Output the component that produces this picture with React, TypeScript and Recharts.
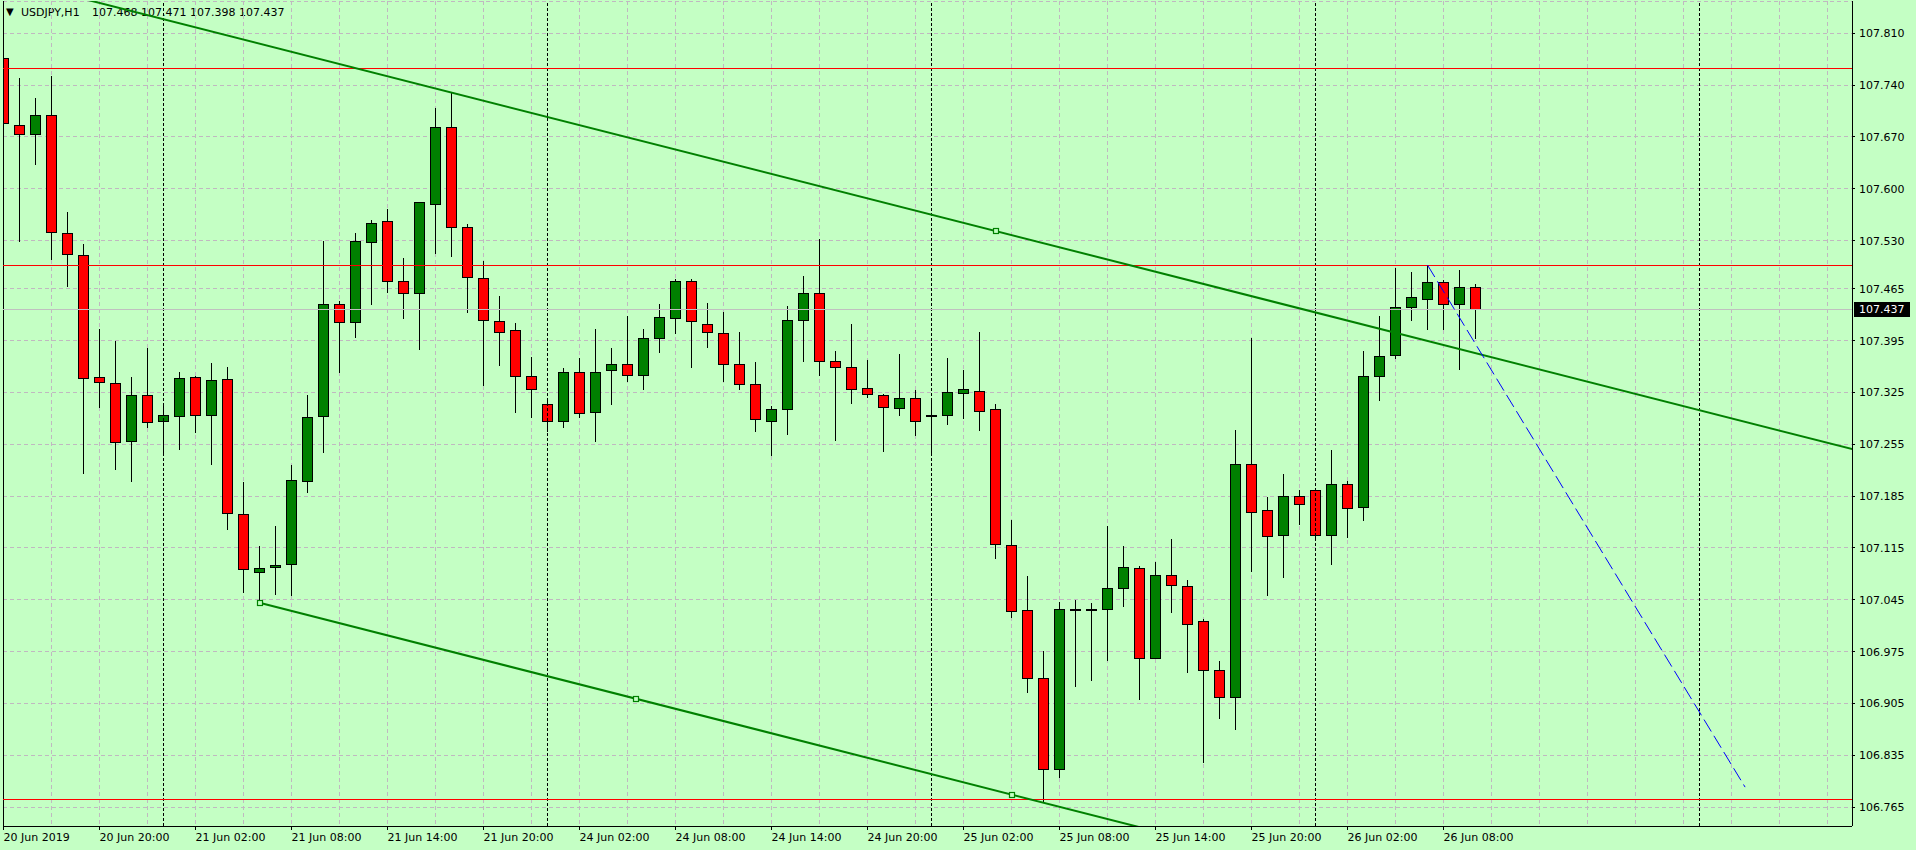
import React from 'react';
import { ComposedChart, Bar, XAxis, YAxis, CartesianGrid, ReferenceLine, ReferenceDot } from 'recharts';

// ---------- data ----------
const OPEN = [
  107.777, 107.686, 107.674, 107.700, 107.540, 107.511, 107.346, 107.338, 107.259, 107.321,
  107.286, 107.293, 107.346, 107.295, 107.343, 107.161, 107.082, 107.089, 107.093, 107.206,
  107.293, 107.444, 107.420, 107.528, 107.556, 107.475, 107.459, 107.580, 107.684, 107.548,
  107.480, 107.422, 107.409, 107.347, 107.310, 107.286, 107.352, 107.298, 107.355, 107.364,
  107.348, 107.398, 107.426, 107.475, 107.418, 107.405, 107.364, 107.337, 107.287, 107.302,
  107.423, 107.459, 107.367, 107.359, 107.331, 107.322, 107.304, 107.318, 107.295, 107.295,
  107.324, 107.327, 107.302, 107.119, 107.031, 106.940, 106.816, 107.032, 107.032, 107.032,
  107.061, 107.088, 106.967, 107.079, 107.063, 107.016, 106.950, 106.914, 107.229, 107.166,
  107.132, 107.185, 107.193, 107.133, 107.201, 107.170, 107.347, 107.375, 107.441, 107.451,
  107.474, 107.444, 107.468,
];
const HIGH = [
  107.794, 107.750, 107.723, 107.752, 107.569, 107.525, 107.410, 107.395, 107.346, 107.385,
  107.309, 107.352, 107.347, 107.365, 107.360, 107.204, 107.117, 107.145, 107.227, 107.321,
  107.530, 107.449, 107.540, 107.558, 107.573, 107.507, 107.582, 107.709, 107.731, 107.553,
  107.502, 107.455, 107.419, 107.373, 107.317, 107.358, 107.372, 107.411, 107.385, 107.428,
  107.411, 107.445, 107.478, 107.478, 107.446, 107.434, 107.407, 107.366, 107.307, 107.442,
  107.482, 107.532, 107.381, 107.417, 107.369, 107.323, 107.377, 107.328, 107.313, 107.372,
  107.355, 107.406, 107.310, 107.153, 107.077, 106.976, 107.042, 107.045, 107.040, 107.145,
  107.118, 107.090, 107.096, 107.127, 107.072, 107.019, 106.962, 107.274, 107.398, 107.184,
  107.215, 107.193, 107.195, 107.247, 107.205, 107.381, 107.428, 107.493, 107.488, 107.497,
  107.477, 107.490, 107.471,
];
const LOW = [
  107.677, 107.530, 107.633, 107.505, 107.469, 107.216, 107.306, 107.222, 107.205, 107.278,
  107.241, 107.248, 107.271, 107.229, 107.141, 107.056, 107.041, 107.053, 107.052, 107.190,
  107.245, 107.353, 107.400, 107.444, 107.461, 107.426, 107.384, 107.513, 107.509, 107.433,
  107.335, 107.362, 107.299, 107.292, 107.273, 107.278, 107.292, 107.260, 107.310, 107.341,
  107.329, 107.380, 107.405, 107.360, 107.387, 107.341, 107.329, 107.273, 107.241, 107.269,
  107.368, 107.349, 107.261, 107.311, 107.319, 107.246, 107.295, 107.268, 107.241, 107.283,
  107.290, 107.274, 107.102, 107.022, 106.921, 106.772, 106.805, 106.929, 106.937, 106.964,
  107.036, 106.911, 106.966, 107.028, 106.947, 106.826, 106.885, 106.870, 107.084, 107.052,
  107.076, 107.148, 107.128, 107.093, 107.130, 107.153, 107.315, 107.372, 107.423, 107.410,
  107.411, 107.356, 107.398,
];
const CLOSE = [
  107.689, 107.674, 107.700, 107.541, 107.512, 107.345, 107.339, 107.258, 107.321, 107.285,
  107.294, 107.344, 107.294, 107.342, 107.162, 107.086, 107.088, 107.092, 107.207, 107.292,
  107.444, 107.420, 107.530, 107.554, 107.475, 107.459, 107.582, 107.684, 107.548, 107.481,
  107.423, 107.407, 107.347, 107.329, 107.287, 107.352, 107.297, 107.352, 107.364, 107.348,
  107.399, 107.427, 107.476, 107.422, 107.406, 107.364, 107.337, 107.289, 107.302, 107.423,
  107.459, 107.368, 107.360, 107.330, 107.323, 107.306, 107.318, 107.287, 107.293, 107.325,
  107.329, 107.300, 107.120, 107.030, 106.940, 106.817, 107.032, 107.032, 107.032, 107.061,
  107.089, 106.966, 107.079, 107.065, 107.012, 106.950, 106.914, 107.229, 107.164, 107.131,
  107.185, 107.175, 107.133, 107.202, 107.169, 107.347, 107.374, 107.441, 107.454, 107.474,
  107.444, 107.468, 107.437,
];

const LABEL_BARS = [0, 6, 12, 18, 24, 30, 36, 42, 48, 54, 60, 66, 72, 78, 84, 90];
const LABEL_TEXT = [
  '20 Jun 2019', '20 Jun 20:00', '21 Jun 02:00', '21 Jun 08:00', '21 Jun 14:00', '21 Jun 20:00',
  '24 Jun 02:00', '24 Jun 08:00', '24 Jun 14:00', '24 Jun 20:00', '25 Jun 02:00', '25 Jun 08:00',
  '25 Jun 14:00', '25 Jun 20:00', '26 Jun 02:00', '26 Jun 08:00',
];
const GRID_BARS = [
  0, 3, 6, 9, 12, 15, 18, 21, 24, 27, 30, 33, 36, 39, 42, 45, 48, 51, 54, 57, 60, 63, 66, 69,
  72, 75, 78, 81, 84, 87, 90, 93, 96, 99, 102, 105, 108, 111, 114,
];
const Y_TICKS = [
  107.810, 107.740, 107.670, 107.600, 107.530, 107.465, 107.395, 107.325, 107.255, 107.185,
  107.115, 107.045, 106.975, 106.905, 106.835, 106.765,
];
const DAY_BREAKS = [10, 34, 58, 82, 106];
const RED_LEVELS = [107.763, 107.497, 106.775];
const BID = 107.437;
const SYMBOL = 'USDJPY,H1';
const QUOTE = '107.468 107.471 107.398 107.437';

const UPPER_TREND = [{ i: 28, p: 107.730 }, { i: 62, p: 107.543 }];
const UPPER_MARKS = [62];
const LOWER_TREND = [{ i: 16, p: 107.041 }, { i: 63, p: 106.782 }];
const LOWER_MARKS = [16, 39.5, 63];
const BLUE_LINE = [{ i: 89, p: 107.497 }, { i: 108.85, p: 106.792 }];

// ---------- layout ----------
const W = 1916;
const H = 850;
const BG = '#C4FFC4';
const FONT = '"DejaVu Sans", Verdana, sans-serif';
const X_MIN = -0.03125;
const X_MAX = 115.53125;
const Y_MIN = 106.7395;
const Y_MAX = 107.8536;
const CRISP = 'crispEdges';

const data = OPEN.map((o, i) => ({
  i,
  open: o,
  high: HIGH[i],
  low: LOW[i],
  close: CLOSE[i],
  range: [LOW[i], HIGH[i]],
}));

const lineAt = (t: { i: number; p: number }[], i: number) =>
  t[0].p + ((t[1].p - t[0].p) * (i - t[0].i)) / (t[1].i - t[0].i);

function Candle(props: any) {
  const { x, y, width, height, payload } = props;
  if (!payload || x == null || y == null) return null;
  const cx = Math.floor(x + width / 2) + 0.5;
  const yHi = Math.min(y, y + height);
  const yLo = Math.max(y, y + height);
  const span = payload.high - payload.low;
  const k = span > 0 ? (yLo - yHi) / span : 0;
  const yO = yHi + (payload.high - payload.open) * k;
  const yC = yHi + (payload.high - payload.close) * k;
  const top = Math.round(Math.min(yO, yC)) + 0.5;
  const bot = Math.round(Math.max(yO, yC)) + 0.5;
  const bull = payload.close >= payload.open;
  return (
    <g shapeRendering={CRISP}>
      <line x1={cx} x2={cx} y1={Math.round(yHi)} y2={Math.round(yLo) + 1} stroke="#000" strokeWidth={1} />
      <rect
        x={cx - 5}
        y={top}
        width={10}
        height={Math.max(bot - top, 1)}
        fill={bull ? '#008000' : '#FF0000'}
        stroke="#000"
        strokeWidth={1}
      />
    </g>
  );
}

function XTick(props: any) {
  const { x, y, payload } = props;
  const idx = LABEL_BARS.indexOf(payload.value);
  if (idx < 0) return null;
  const px = Math.floor(x) + 0.5;
  return (
    <g>
      <line x1={px} x2={px} y1={y} y2={y + 4} stroke="#000" strokeWidth={1} shapeRendering={CRISP} />
      <text x={px} y={y + 15} fontFamily={FONT} fontSize={11} fill="#000" textAnchor="start">
        {LABEL_TEXT[idx]}
      </text>
    </g>
  );
}

function YTick(props: any) {
  const { x, y, payload } = props;
  return (
    <text x={x} y={y + 4} fontFamily={FONT} fontSize={11} fill="#000" textAnchor="start">
      {Number(payload.value).toFixed(3)}
    </text>
  );
}

function BidTag(props: any) {
  const vb = props.viewBox || {};
  const right = (vb.x || 0) + (vb.width || 0);
  const yy = vb.y || 0;
  return (
    <g>
      <rect x={right + 2} y={Math.round(yy) - 7} width={56} height={15} fill="#000" />
      <text x={right + 7} y={Math.round(yy) + 4} fontFamily={FONT} fontSize={11} fill="#FFFFFF">
        {BID.toFixed(3)}
      </text>
    </g>
  );
}

const Square = (props: any) => {
  const { cx, cy } = props;
  if (cx == null || cy == null) return null;
  return (
    <rect
      x={Math.round(cx) - 2.5}
      y={Math.round(cy) - 2.5}
      width={5}
      height={5}
      fill={BG}
      stroke="#008000"
      strokeWidth={1.2}
    />
  );
};

export default function App() {
  return (
    <div
      style={{
        position: 'absolute',
        left: 0,
        top: 0,
        width: W,
        height: H,
        background: BG,
        overflow: 'hidden',
        fontFamily: FONT,
      }}
    >
      <div
        style={{
          position: 'absolute',
          left: 6,
          top: 6,
          height: 13,
          lineHeight: '13px',
          fontSize: 11,
          color: '#000',
          whiteSpace: 'pre',
          zIndex: 0,
        }}
      >
        <span style={{ fontSize: 10, position: 'relative', top: -1 }}>▼</span>
        <span style={{ position: 'absolute', left: 15 }}>{SYMBOL}</span>
        <span style={{ position: 'absolute', left: 86 }}>{QUOTE}</span>
      </div>
      <div style={{ position: 'absolute', left: 0, top: 0, zIndex: 1 }}>
        <ComposedChart
          width={W}
          height={H}
          data={data}
          margin={{ top: 1, right: 0, bottom: 0, left: 3 }}
        >
          <CartesianGrid
            stroke="#C0B8C0"
            strokeDasharray="4 3"
            horizontal
            vertical
            shapeRendering={CRISP}
          />
          <XAxis
            dataKey="i"
            type="number"
            scale="linear"
            domain={[X_MIN, X_MAX]}
            allowDataOverflow
            ticks={GRID_BARS}
            interval={0}
            height={24}
            tickSize={0}
            tickMargin={0}
            tickLine={false}
            axisLine={{ stroke: '#000', strokeWidth: 1, shapeRendering: CRISP }}
            tick={<XTick />}
          />
          <YAxis
            orientation="right"
            type="number"
            domain={[Y_MIN, Y_MAX]}
            allowDataOverflow
            ticks={Y_TICKS}
            interval={0}
            width={64}
            tickSize={3}
            tickMargin={4}
            tickLine={{ stroke: '#000', shapeRendering: CRISP }}
            axisLine={{ stroke: '#000', strokeWidth: 1, shapeRendering: CRISP }}
            tick={<YTick />}
          />
          <ReferenceLine x={X_MIN} stroke="#000" strokeWidth={1} ifOverflow="visible" shapeRendering={CRISP} />
          {DAY_BREAKS.map((d) => (
            <ReferenceLine
              key={'d' + d}
              x={d}
              stroke="#000"
              strokeDasharray="3 2"
              strokeWidth={1}
              shapeRendering={CRISP}
            />
          ))}
          <ReferenceLine
            y={BID}
            stroke="#C0C0C0"
            strokeWidth={1}
            shapeRendering={CRISP}
            label={(p: any) => <BidTag {...p} />}
          />
          <Bar
            dataKey="range"
            barSize={11}
            isAnimationActive={false}
            shape={(p: any) => <Candle {...p} />}
          />
          {RED_LEVELS.map((lv) => (
            <ReferenceLine key={'r' + lv} y={lv} stroke="#FF0000" strokeWidth={1} shapeRendering={CRISP} />
          ))}
          <ReferenceLine
            segment={[
              { x: X_MIN - 2, y: lineAt(UPPER_TREND, X_MIN - 2) },
              { x: X_MAX + 2, y: lineAt(UPPER_TREND, X_MAX + 2) },
            ]}
            stroke="#008000"
            strokeWidth={2}
            ifOverflow="hidden"
          />
          <ReferenceLine
            segment={[
              { x: LOWER_TREND[0].i, y: LOWER_TREND[0].p },
              { x: X_MAX + 2, y: lineAt(LOWER_TREND, X_MAX + 2) },
            ]}
            stroke="#008000"
            strokeWidth={2}
            ifOverflow="hidden"
          />
          <ReferenceLine
            segment={[
              { x: BLUE_LINE[0].i, y: BLUE_LINE[0].p },
              { x: BLUE_LINE[1].i, y: BLUE_LINE[1].p },
            ]}
            stroke="#0000FF"
            strokeWidth={1}
            strokeDasharray="14 5"
            ifOverflow="hidden"
          />
          {UPPER_MARKS.map((m) => (
            <ReferenceDot key={'um' + m} x={m} y={lineAt(UPPER_TREND, m)} r={3} shape={Square} ifOverflow="visible" />
          ))}
          {LOWER_MARKS.map((m) => (
            <ReferenceDot key={'lm' + m} x={m} y={lineAt(LOWER_TREND, m)} r={3} shape={Square} ifOverflow="visible" />
          ))}
        </ComposedChart>
      </div>
    </div>
  );
}
